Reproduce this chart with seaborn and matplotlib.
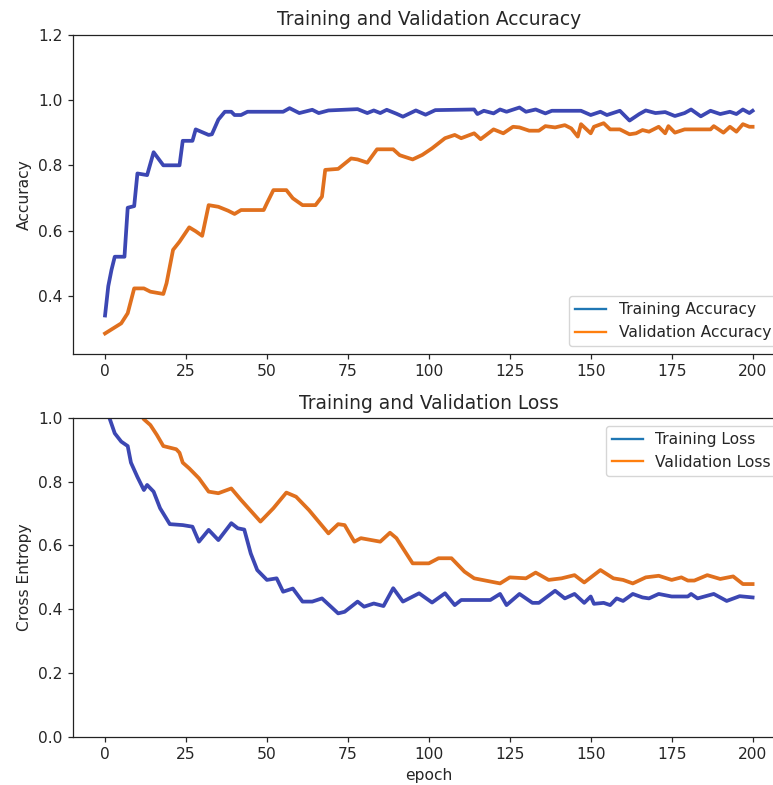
import matplotlib
matplotlib.use("Agg")
import matplotlib.pyplot as plt
import seaborn as sns
from matplotlib.lines import Line2D

# ---- data ----
train_acc_epoch = [0, 1, 2, 3, 6, 7, 9, 10, 13, 15, 18, 23, 24, 27, 28, 32, 33, 35, 37, 39, 40, 42, 44, 55,
                   57, 60, 64, 66, 69, 78, 81, 83, 85, 87, 90, 92, 96, 99, 102, 114, 115, 117, 120, 122, 124,
                   128, 130, 133, 136, 138, 147, 150, 153, 155, 159, 162, 165, 167, 170, 173, 176, 179, 181,
                   184, 187, 190, 193, 195, 197, 199, 200]
train_acc = [0.34, 0.43, 0.48, 0.52, 0.52, 0.67, 0.675, 0.775, 0.77, 0.84, 0.80, 0.80, 0.875, 0.875, 0.91,
             0.893, 0.895, 0.94, 0.964, 0.964, 0.954, 0.954, 0.964, 0.964, 0.975, 0.96, 0.97, 0.96, 0.968,
             0.972, 0.96, 0.968, 0.96, 0.97, 0.958, 0.949, 0.968, 0.955, 0.969, 0.971, 0.957, 0.967, 0.959,
             0.971, 0.964, 0.977, 0.964, 0.971, 0.959, 0.967, 0.967, 0.954, 0.964, 0.954, 0.967, 0.937,
             0.957, 0.968, 0.96, 0.963, 0.951, 0.96, 0.971, 0.95, 0.967, 0.957, 0.964, 0.957, 0.971, 0.96,
             0.967]

val_acc_epoch = [0, 5, 7, 9, 12, 14, 18, 19, 21, 23, 26, 28, 30, 32, 35, 38, 40, 42, 49, 50, 52, 56, 58, 61,
                 65, 67, 68, 72, 76, 78, 81, 84, 89, 91, 95, 98, 101, 105, 108, 110, 114, 116, 120, 123, 126,
                 128, 131, 134, 136, 139, 142, 144, 146, 147, 150, 151, 154, 156, 159, 162, 164, 166, 168,
                 171, 173, 174, 176, 179, 187, 188, 191, 193, 195, 197, 199, 200]
val_acc = [0.285, 0.316, 0.347, 0.423, 0.423, 0.413, 0.406, 0.439, 0.541, 0.566, 0.61, 0.598, 0.584, 0.678,
           0.673, 0.661, 0.651, 0.663, 0.663, 0.684, 0.724, 0.724, 0.699, 0.678, 0.678, 0.704, 0.786, 0.789,
           0.821, 0.818, 0.808, 0.849, 0.849, 0.831, 0.818, 0.832, 0.852, 0.883, 0.893, 0.883, 0.898, 0.88,
           0.91, 0.898, 0.918, 0.916, 0.906, 0.906, 0.92, 0.916, 0.923, 0.913, 0.888, 0.926, 0.898, 0.918,
           0.929, 0.91, 0.91, 0.895, 0.898, 0.908, 0.903, 0.918, 0.898, 0.92, 0.9, 0.91, 0.91, 0.92, 0.9,
           0.918, 0.903, 0.926, 0.918, 0.918]

train_loss_epoch = [0, 3, 5, 7, 8, 10, 12, 13, 15, 17, 20, 24, 27, 29, 32, 35, 39, 41, 43, 45, 47, 50, 53,
                    55, 58, 61, 64, 67, 72, 74, 78, 80, 83, 86, 89, 92, 97, 101, 105, 108, 110, 119, 122,
                    124, 128, 132, 134, 139, 142, 145, 148, 150, 151, 154, 156, 158, 160, 163, 166, 168, 171,
                    175, 180, 181, 183, 188, 192, 196, 200]
train_loss = [1.04, 0.952, 0.926, 0.912, 0.86, 0.815, 0.774, 0.79, 0.769, 0.717, 0.667, 0.664, 0.659, 0.612,
              0.649, 0.617, 0.67, 0.654, 0.65, 0.575, 0.523, 0.492, 0.497, 0.455, 0.465, 0.424, 0.424, 0.434,
              0.387, 0.392, 0.424, 0.408, 0.418, 0.41, 0.466, 0.424, 0.45, 0.421, 0.45, 0.413, 0.429, 0.429,
              0.448, 0.413, 0.448, 0.42, 0.42, 0.458, 0.434, 0.448, 0.42, 0.44, 0.417, 0.42, 0.413, 0.434,
              0.426, 0.448, 0.437, 0.434, 0.448, 0.44, 0.44, 0.448, 0.434, 0.448, 0.426, 0.441, 0.437]

val_loss_epoch = [0, 5, 10, 12, 14, 16, 18, 22, 23, 24, 26, 29, 32, 35, 39, 42, 48, 52, 56, 59, 63, 69, 72,
                  74, 77, 79, 85, 88, 90, 95, 100, 103, 107, 111, 114, 118, 122, 125, 130, 133, 137, 141,
                  145, 148, 153, 157, 160, 163, 167, 171, 175, 178, 180, 182, 186, 190, 194, 197, 200]
val_loss = [1.35, 1.15, 1.03, 0.996, 0.978, 0.947, 0.912, 0.902, 0.891, 0.86, 0.842, 0.811, 0.769, 0.764,
            0.779, 0.743, 0.675, 0.717, 0.766, 0.753, 0.711, 0.638, 0.667, 0.664, 0.612, 0.623, 0.612, 0.64,
            0.623, 0.544, 0.544, 0.56, 0.56, 0.518, 0.497, 0.489, 0.481, 0.5, 0.497, 0.515, 0.492, 0.497,
            0.507, 0.484, 0.523, 0.497, 0.492, 0.481, 0.5, 0.505, 0.492, 0.5, 0.49, 0.49, 0.507, 0.495,
            0.503, 0.479, 0.479]

# ---- style ----
S = 1.12
plt.rcParams.update({
    "font.family": ["DejaVu Sans"],
    "font.size": 10 * S,
    "axes.linewidth": 0.8 * S,
    "axes.edgecolor": "#222222",
    "xtick.major.size": 3.5 * S,
    "ytick.major.size": 3.5 * S,
    "xtick.major.width": 0.8 * S,
    "ytick.major.width": 0.8 * S,
    "xtick.labelsize": 10 * S,
    "ytick.labelsize": 10 * S,
    "axes.labelsize": 10 * S,
    "axes.titlesize": 12 * S,
    "axes.titlepad": 6 * S,
    "legend.fontsize": 10 * S,
    "text.color": "#262626",
    "axes.labelcolor": "#262626",
    "xtick.color": "#262626",
    "ytick.color": "#262626",
})

BLUE_LINE = "#3c47b3"
ORANGE_LINE = "#e0701e"
LW = 2.7

fig = plt.figure(figsize=(7.73, 7.85), dpi=100)
ax1 = fig.add_axes([0.094, 0.549, 0.9215, 0.4068])
ax2 = fig.add_axes([0.094, 0.0615, 0.9215, 0.406])

sns.lineplot(x=train_acc_epoch, y=train_acc, ax=ax1, color=BLUE_LINE, linewidth=LW)
sns.lineplot(x=val_acc_epoch, y=val_acc, ax=ax1, color=ORANGE_LINE, linewidth=LW)
ax1.set_xlim(-10, 210)
ax1.set_ylim(0.222, 1.2)
ax1.set_yticks([0.4, 0.6, 0.8, 1.0, 1.2])
ax1.set_xticks([0, 25, 50, 75, 100, 125, 150, 175, 200])
ax1.set_ylabel("Accuracy")
ax1.set_title("Training and Validation Accuracy")
h1 = [Line2D([], [], color="#1f77b4", lw=1.5 * S), Line2D([], [], color="#ff7f0e", lw=1.5 * S)]
ax1.legend(h1, ["Training Accuracy", "Validation Accuracy"], loc="lower right")

sns.lineplot(x=train_loss_epoch, y=train_loss, ax=ax2, color=BLUE_LINE, linewidth=LW)
sns.lineplot(x=val_loss_epoch, y=val_loss, ax=ax2, color=ORANGE_LINE, linewidth=LW)
ax2.set_xlim(-10, 210)
ax2.set_ylim(0, 1.0)
ax2.set_yticks([0.0, 0.2, 0.4, 0.6, 0.8, 1.0])
ax2.set_xticks([0, 25, 50, 75, 100, 125, 150, 175, 200])
ax2.set_ylabel("Cross Entropy")
ax2.set_xlabel("epoch")
ax2.set_title("Training and Validation Loss")
h2 = [Line2D([], [], color="#1f77b4", lw=1.5 * S), Line2D([], [], color="#ff7f0e", lw=1.5 * S)]
ax2.legend(h2, ["Training Loss", "Validation Loss"], loc="upper right")

fig.savefig("out.png", dpi=100)
